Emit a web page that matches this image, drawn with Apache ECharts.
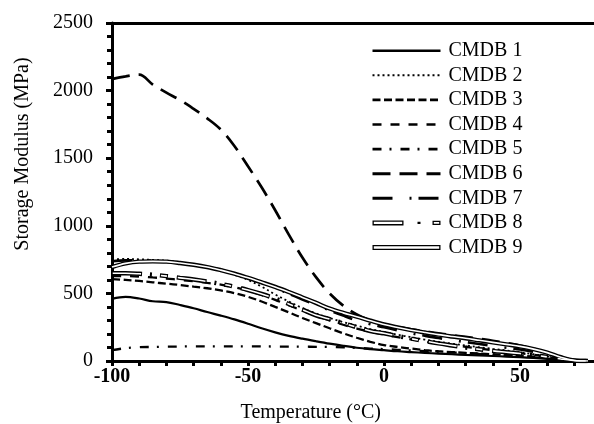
<!DOCTYPE html>
<html><head><meta charset="utf-8">
<script src="https://cdn.jsdelivr.net/npm/echarts@6/dist/echarts.min.js"></script>
<style>html,body{margin:0;padding:0;background:#fff}#c{width:594px;height:424px}</style>
</head><body><div id="c"></div>
<script>
const seriesNames = ['CMDB 1','CMDB 2','CMDB 3','CMDB 4','CMDB 5','CMDB 6','CMDB 7','CMDB 8','CMDB 9'];
const temperatures = [-100,-95,-90,-85,-80,-75,-70,-65,-60,-55,-50,-45,-40,-35,-30,-25,-20,-15,-10,-5,0,5,10,15,20,25,30,35,40,45,50,55,60,65,70,75];
const cmdb1 = [460,474,462,442,436,414,390,362,336,308,276,242,212,186,165,146,128,112,98,88,80,72,66,60,55,50,45,41,37,33,28,22,15,8,2,0];
const cmdb2 = [752,755,752,748,742,730,715,695,670,638,600,550,492,440,392,352,318,288,262,236,215,194,176,158,142,128,115,102,90,78,65,50,35,18,3,0];
const cmdb3 = [605,600,592,582,572,562,550,538,522,502,475,440,400,360,318,280,242,205,172,142,118,104,92,80,72,66,60,55,50,45,40,33,25,14,3,0];
const cmdb4 = [628,628,625,618,610,600,590,578,565,545,520,488,452,412,372,335,300,268,240,216,195,177,160,145,130,117,105,92,80,69,58,46,32,15,3,0];
const cmdb5 = [80,95,102,104,106,107,108,108,108,108,108,108,107,107,106,105,104,101,97,92,88,83,78,73,68,63,58,52,46,40,34,27,18,10,2,0];
const cmdb6 = [2085,2105,2118,2045,1985,1930,1865,1795,1712,1590,1440,1285,1115,935,765,620,500,410,345,300,270,252,235,220,205,192,178,164,150,133,115,92,60,25,5,0];
const cmdb7 = [738,745,745,741,735,725,712,695,675,648,615,580,540,498,455,415,375,336,300,272,250,227,205,187,170,155,140,126,112,98,85,68,48,22,4,0];
const cmdb8 = [649,649,645,638,628,615,603,588,570,550,525,496,462,422,380,338,310,280,250,222,205,185,165,147,130,115,100,87,75,65,55,44,30,15,3,0];
const cmdb9 = [695,722,735,737,735,725,712,695,672,646,615,582,548,510,470,430,388,356,328,298,270,248,228,211,195,181,168,153,138,123,108,88,62,28,4,0];
const yTickValues = [0,500,1000,1500,2000,2500];
const xTickValues = [-100,-50,0,50];

const FONT = 'Liberation Serif';
const allValues = [cmdb1,cmdb2,cmdb3,cmdb4,cmdb5,cmdb6,cmdb7,cmdb8,cmdb9];
const pairs = v => temperatures.map((t,i)=>[t, v[i]]);

const styles = [
  {width:2.2, type:'solid'},
  {width:1.8, type:[2,3]},
  {width:2.3, type:[8,3.5]},
  {width:2.3, type:[9,9]},
  {width:2.3, type:[9,8,2,9]},
  {width:2.7, type:[18,9]},
  {width:2.7, type:[20,17,2,7]},
  {width:4.4, type:[30,8,2,8,8,9]},
  {width:4.4, type:'solid'}
];

const series = [];
seriesNames.forEach((n,i)=>{
  series.push({
    name:n, type:'line', data:pairs(allValues[i]), symbol:'none', showSymbol:false,
    smooth:0.35, silent:true, animation:false,
    lineStyle:{color:'#000', width:styles[i].width, type:styles[i].type, cap:'butt'},
    itemStyle:{color:'#000'}
  });
});
// inner white cores for the double-line series
series.push({name:'CMDB 8 core', type:'line', data:pairs(cmdb8), symbol:'none', smooth:0.35, silent:true, animation:false,
  lineStyle:{color:'#fff', width:1.6, type:[0,1,28,20,6,10], cap:'butt'}});
series.push({name:'CMDB 9 core', type:'line', data:pairs(cmdb9), symbol:'none', smooth:0.35, silent:true, animation:false,
  lineStyle:{color:'#fff', width:1.6, type:'solid'}});

const icon8 = 'path://M0,0H31V5H0Z M1.3,1.3V3.7H29.7V1.3Z M45,1.4H48V3.6H45Z M60,0.4H68V4.6H60Z M61.3,1.6V3.4H66.7V1.6Z';
const icon9 = 'path://M0,0H68V5H0Z M1.3,1.3V3.7H66.7V1.3Z';
const legendData = seriesNames.map((n,i)=>{
  if (i===7) return {name:n, icon:icon8, itemStyle:{opacity:1, color:'#000', borderWidth:0}};
  if (i===8) return {name:n, icon:icon9, itemStyle:{opacity:1, color:'#000', borderWidth:0}};
  return {name:n, lineStyle:{width:styles[i].width + 0.3, type:styles[i].type, color:'#000'}};
});

const chart = echarts.init(document.getElementById('c'), null, {renderer:'canvas'});
chart.setOption({
  backgroundColor:'#fff',
  animation:false,
  grid:{left:112, top:23, width:489.6, height:338, containLabel:false, outerBoundsMode:'none'},
  legend:{
    orient:'vertical', left:371, top:40.7, padding:0, itemWidth:68, itemHeight:6, itemGap:4.6,
    selectedMode:false,
    itemStyle:{opacity:0},
    textStyle:{fontFamily:FONT, fontSize:20, color:'#000', lineHeight:20, padding:[0,0,0,3]},
    data:legendData
  },
  xAxis:[{
    type:'value', min:-100, max:80, interval:50, position:'bottom',
    axisLine:{show:true, onZero:false, lineStyle:{color:'#000', width:3}},
    axisTick:{show:true, length:5, lineStyle:{color:'#000', width:3}},
    minorTick:{show:true, splitNumber:5, length:5, lineStyle:{color:'#000', width:3}},
    splitLine:{show:false}, minorSplitLine:{show:false},
    axisLabel:{fontFamily:FONT, fontSize:20, fontWeight:'bold', color:'#000', margin:6,
      formatter:v=> xTickValues.includes(v) ? String(v) : ''},
    name:'Temperature (°C)', nameLocation:'middle', nameGap:42,
    nameTextStyle:{fontFamily:FONT, fontSize:20, color:'#000', padding:[0,92,0,0]}
  },{
    type:'value', min:-100, max:80, position:'top',
    axisLine:{show:true, onZero:false, lineStyle:{color:'#000', width:3}},
    axisTick:{show:false}, axisLabel:{show:false}, splitLine:{show:false}
  }],
  yAxis:{
    type:'value', min:0, max:2500, interval:500,
    axisLine:{show:true, onZero:false, lineStyle:{color:'#000', width:3}},
    axisTick:{show:true, length:6, lineStyle:{color:'#000', width:3}},
    minorTick:{show:true, splitNumber:5, length:5, lineStyle:{color:'#000', width:3}},
    splitLine:{show:false}, minorSplitLine:{show:false},
    axisLabel:{fontFamily:FONT, fontSize:20, color:'#000', margin:19,
      formatter:v=> yTickValues.includes(v) ? String(v) : ''},
    name:'Storage Modulus (MPa)', nameLocation:'middle', nameGap:79, nameRotate:90,
    nameTextStyle:{fontFamily:FONT, fontSize:20, color:'#000', padding:[0,0,0,76]}
  },
  series:series
});
</script></body></html>
